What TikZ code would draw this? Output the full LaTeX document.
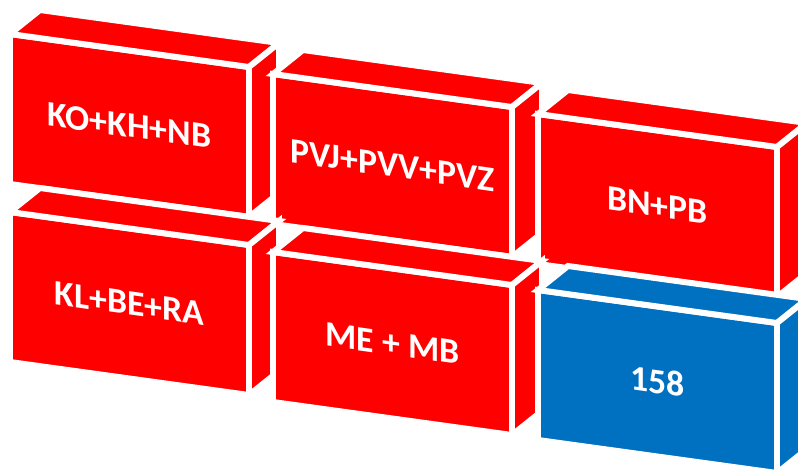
\documentclass[tikz,border=0pt]{standalone}
\usepackage{fontspec}
\setmainfont{Carlito}
\definecolor{brickred}{HTML}{FF0000}
\definecolor{brickblue}{HTML}{0070C0}
\tikzset{
  face/.style={draw=white, line width=5.1pt, line join=miter},
  bricktext/.style={text=white, font=\fontsize{30.5}{36}\selectfont\bfseries,
    yslant=-0.142, inner sep=0pt}
}
% one slanted 3-D brick: name, x, y of front top-left corner, colour, text
\newcommand\drawbrick[5]{%
  \begin{scope}[shift={(#2,#3)}]
    \filldraw[fill=#4, face] (0,0) -- (239,33) -- (239,183) -- (0,150) -- cycle;
    \filldraw[fill=#4, face] (0,0) -- (30,-24) -- (269,9) -- (239,33) -- cycle;
    \filldraw[fill=#4, face] (239,33) -- (269,9) -- (269,159) -- (239,183) -- cycle;
    \node[bricktext] (#1) at (119.5,91.5) {#5};
  \end{scope}}
\begin{document}
\begin{tikzpicture}[x=0.03cm, y=-0.03cm]
  \useasboundingbox (0,0) rectangle (798,472);
  \clip (0,0) rectangle (798,472);
  % upper row
  \drawbrick{ko}{10}{34}{brickred}{KO+KH+NB}
  \drawbrick{pv}{273}{74}{brickred}{PVJ+PVV+PVZ}
  \drawbrick{bn}{538}{114}{brickred}{BN+PB}
  % lower row
  \drawbrick{kl}{10}{212}{brickred}{KL+BE+RA}
  \drawbrick{me}{273}{252}{brickred}{ME + MB}
  \drawbrick{total}{538}{290}{brickblue}{158}
\end{tikzpicture}
\end{document}
